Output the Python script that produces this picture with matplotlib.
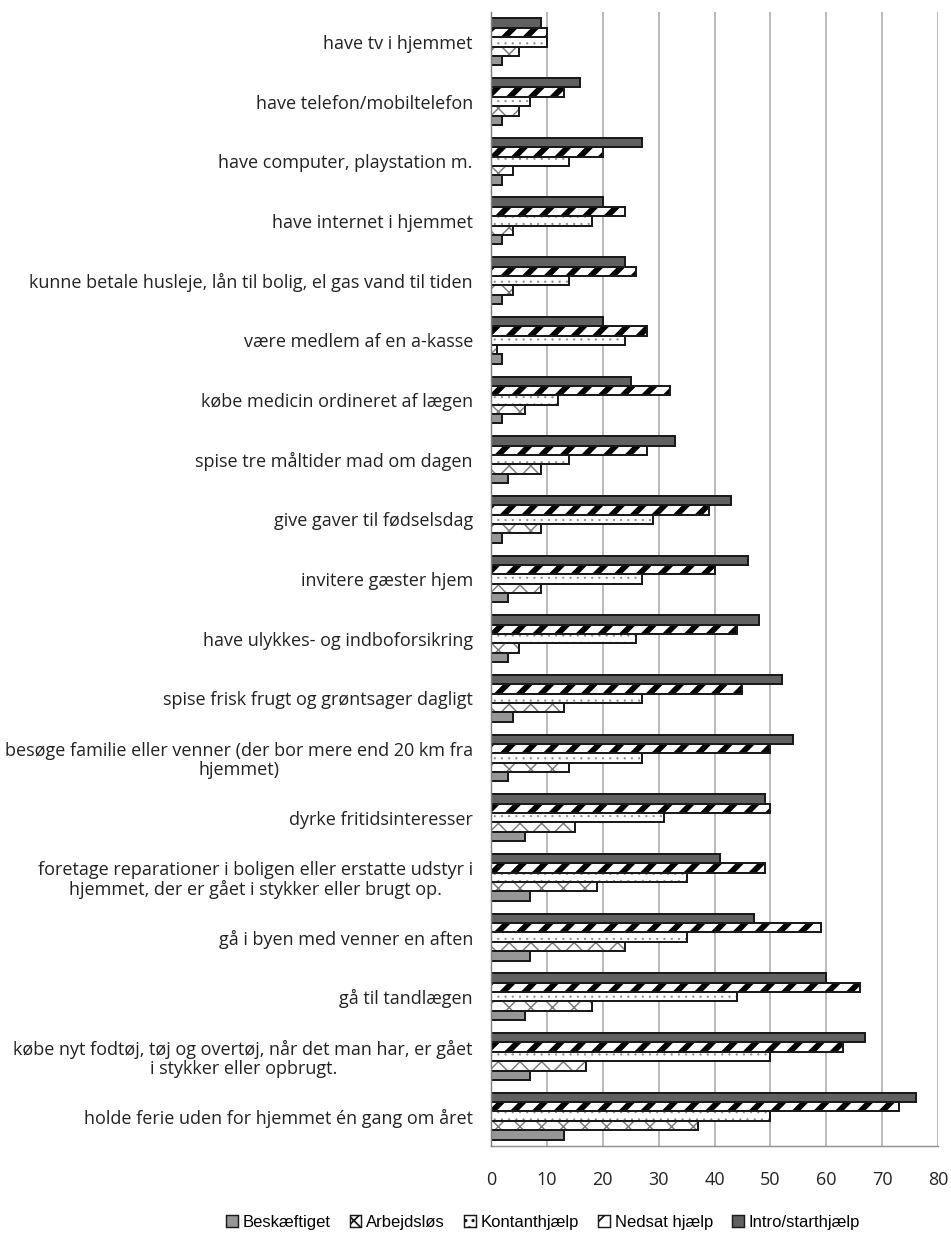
import matplotlib
matplotlib.use('Agg')
import matplotlib as mpl
import matplotlib.pyplot as plt
import numpy as np
from matplotlib.patches import Patch

categories = [
    "have tv i hjemmet",
    "have telefon/mobiltelefon",
    "have computer, playstation m.",
    "have internet i hjemmet",
    "kunne betale husleje, lån til bolig, el gas vand til tiden",
    "være medlem af en a-kasse",
    "købe medicin ordineret af lægen",
    "spise tre måltider mad om dagen",
    "give gaver til fødselsdag",
    "invitere gæster hjem",
    "have ulykkes- og indboforsikring",
    "spise frisk frugt og grøntsager dagligt",
    "besøge familie eller venner (der bor mere end 20 km fra\nhjemmet)",
    "dyrke fritidsinteresser",
    "foretage reparationer i boligen eller erstatte udstyr i\nhjemmet, der er gået i stykker eller brugt op.",
    "gå i byen med venner en aften",
    "gå til tandlægen",
    "købe nyt fodtøj, tøj og overtøj, når det man har, er gået\ni stykker eller opbrugt.",
    "holde ferie uden for hjemmet én gang om året",
]
series_names = ["Beskæftiget", "Arbejdsløs", "Kontanthjælp", "Nedsat hjælp", "Intro/starthjælp"]
beskaeftiget = [2, 2, 2, 2, 2, 2, 2, 3, 2, 3, 3, 4, 3, 6, 7, 7, 6, 7, 13]
arbejdslos = [5, 5, 4, 4, 4, 1, 6, 9, 9, 9, 5, 13, 14, 15, 19, 24, 18, 17, 37]
kontanthjaelp = [10, 7, 14, 18, 14, 24, 12, 14, 29, 27, 26, 27, 27, 31, 35, 35, 44, 50, 50]
nedsat = [10, 13, 20, 24, 26, 28, 32, 28, 39, 40, 44, 45, 50, 50, 49, 59, 66, 63, 73]
intro = [9, 16, 27, 20, 24, 20, 25, 33, 43, 46, 48, 52, 54, 49, 41, 47, 60, 67, 76]
xticks = [0, 10, 20, 30, 40, 50, 60, 70, 80]

series = [beskaeftiget, arbejdslos, kontanthjaelp, nedsat, intro]
# style: (facecolor, hatch, hatchcolor, hatch linewidth)
styles = [
    ("#969696", None, None, 1.0),
    ("white", "xx", "#7a7a7a", 0.8),
    ("white", "...", "#8a8a8a", 0.4),
    ("white", "//", "black", 3.2),
    ("#606060", None, None, 1.0),
]

DPI = 130
fig = plt.figure(figsize=(951 / DPI, 1244 / DPI), dpi=DPI)
ax = fig.add_axes([491 / 951, 1 - 1146 / 1244, 447 / 951, 1134 / 1244])

n = len(categories)
y = np.arange(n)
h = 0.157

for k, (vals, (fc, hatch, hc, hlw)) in enumerate(zip(series, styles)):
    pos = y + (2 - k) * h
    if hatch is None:
        ax.barh(pos, vals, height=h, color=fc, edgecolor="#1a1a1a", linewidth=1.1, zorder=3)
    else:
        with mpl.rc_context({"hatch.linewidth": hlw, "hatch.color": hc}):
            bars = ax.barh(pos, vals, height=h, color=fc, edgecolor=hc, hatch=hatch,
                           linewidth=0, zorder=3)
            for b in bars:
                if hasattr(b, "set_hatch_linewidth"):
                    b.set_hatch_linewidth(hlw)
        ax.barh(pos, vals, height=h, fill=False, edgecolor="#1a1a1a", linewidth=1.1, zorder=4)

ax.set_xlim(0, 80)
ax.set_ylim(n - 0.5, -0.5)
ax.set_xticks(xticks)
ax.set_xticklabels([str(t) for t in xticks], fontfamily="Open Sans", fontsize=10)
ax.set_yticks(y)
ax.set_yticklabels(categories, fontfamily="Open Sans", fontsize=10)
for lab in ax.get_yticklabels():
    lab.set_multialignment("center")
    lab.set_linespacing(1.1)
ax.tick_params(axis="x", length=0, pad=14, colors="#222222")
ax.tick_params(axis="y", length=0, pad=10, colors="#222222")

ax.grid(axis="x", color="#b4b4b4", linewidth=1.0, zorder=0)
ax.set_axisbelow(True)
for s in ["top", "right"]:
    ax.spines[s].set_visible(False)
ax.spines["left"].set_color("#808080")
ax.spines["bottom"].set_color("#909090")
ax.spines["left"].set_zorder(5)

handles = []
for name, (fc, hatch, hc, hlw) in zip(series_names, styles):
    if hatch is None:
        p = Patch(facecolor=fc, edgecolor="#1a1a1a", linewidth=0.8, label=name)
    else:
        lhatch = {"xx": "xxx", "...": "...", "//": "/"}[hatch]
        with mpl.rc_context({"hatch.linewidth": min(hlw, 2.5), "hatch.color": hc}):
            p = Patch(facecolor=fc, edgecolor="#1a1a1a", hatch=lhatch,
                      linewidth=0.8, label=name)
            if hasattr(p, "set_hatch_linewidth"):
                p.set_hatch_linewidth(min(hlw, 2.5))
    handles.append(p)

fig.legend(handles=handles, loc="center", bbox_to_anchor=(543 / 951, 1 - 1222 / 1244),
           ncol=5, frameon=False, prop={"family": "Liberation Sans", "size": 9.2},
           handlelength=0.7, handleheight=0.7, handletextpad=0.3, columnspacing=1.15)

fig.savefig("out.png", dpi=DPI)
